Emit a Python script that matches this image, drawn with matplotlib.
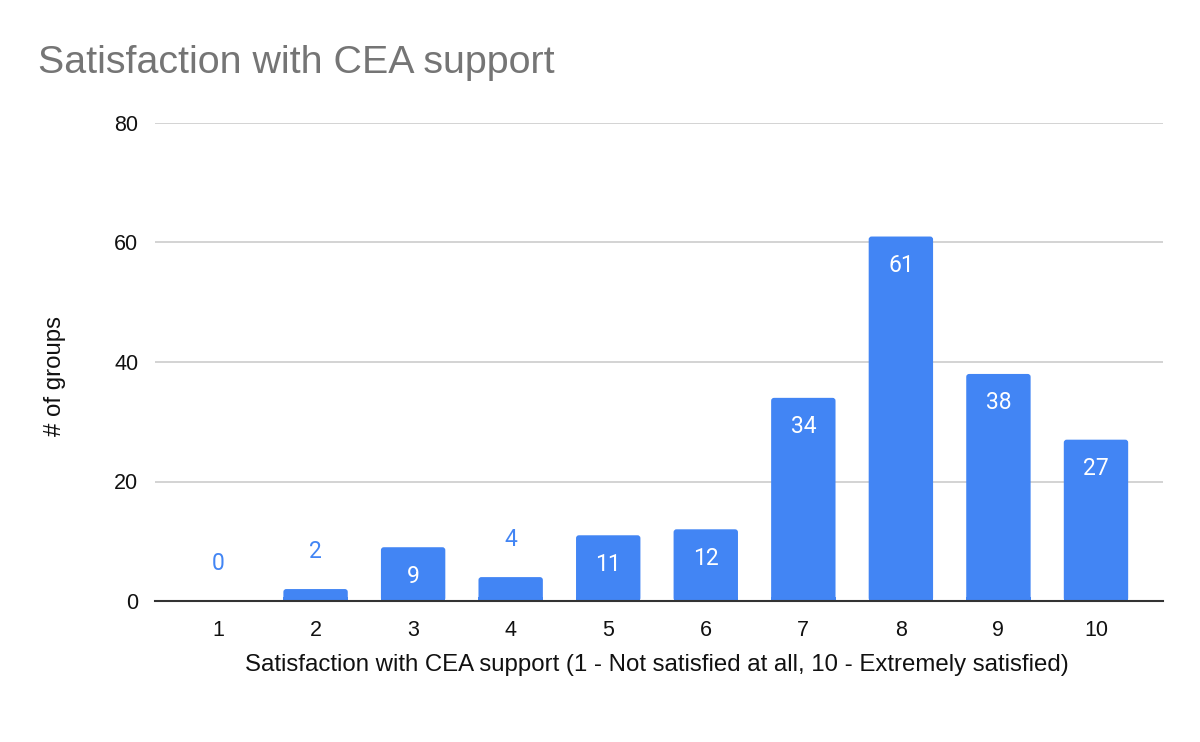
import matplotlib.pyplot as plt
from matplotlib.patches import FancyBboxPatch

scores = ['1', '2', '3', '4', '5', '6', '7', '8', '9', '10']
groups = [0, 2, 9, 4, 11, 12, 34, 61, 38, 27]
y_ticks = [0, 20, 40, 60, 80]

bar_color = '#4285f4'
arial = ['Liberation Sans', 'DejaVu Sans']
roboto = ['Roboto', 'DejaVu Sans']
plt.rcParams['font.family'] = arial

fig = plt.figure(figsize=(12, 7.42), dpi=100)
ax = fig.add_axes([155 / 1200, 1 - 601 / 742, (1163 - 155) / 1200, (601 - 123) / 742])

x = list(range(len(scores)))
bars = ax.bar(x, groups, width=0.66, color=bar_color, zorder=3)

# round the top corners a little, like the original
for b in bars:
    h = b.get_height()
    if h <= 0:
        continue
    b.set_visible(False)
    ax.add_patch(FancyBboxPatch((b.get_x(), 0), b.get_width(), h,
                                boxstyle='round,pad=0,rounding_size=0.03',
                                mutation_aspect=16,
                                color=bar_color, zorder=3, linewidth=0))
    # square off the bottom corners
    ax.add_patch(plt.Rectangle((b.get_x(), 0), b.get_width(), min(h, 0.6),
                               color=bar_color, zorder=3, linewidth=0))

for xi, v in zip(x, groups):
    if v >= 8:
        ax.annotate(str(v), (xi, v), xytext=(0, -29), textcoords='offset pixels',
                    ha='center', va='center', color='white', fontsize=16.5,
                    family=roboto, zorder=4)
    else:
        ax.annotate(str(v), (xi, v), xytext=(0, 38), textcoords='offset pixels',
                    ha='center', va='center', color=bar_color, fontsize=16.5,
                    family=roboto, zorder=4)

ax.set_xlim(-0.646, 9.687)
ax.set_ylim(0, 80)
ax.set_yticks(y_ticks)
ax.set_xticks(x)
ax.set_xticklabels(scores)
ax.tick_params(axis='both', length=0, labelsize=15.5, colors='#111111')
ax.tick_params(axis='x', pad=14)
ax.tick_params(axis='y', pad=12)
ax.grid(axis='y', color='#cccccc', linewidth=1.2, zorder=0)
for s in ['top', 'right', 'left']:
    ax.spines[s].set_visible(False)
ax.spines['bottom'].set_color('#333333')
ax.spines['bottom'].set_linewidth(1.5)
ax.spines['bottom'].set_zorder(5)

fig.text(657 / 1200, 1 - 665 / 742,
         'Satisfaction with CEA support (1 - Not satisfied at all, 10 - Extremely satisfied)',
         fontsize=17.3, color='#111111', ha='center', va='center')
fig.text(55 / 1200, 1 - 376 / 742, '# of groups', fontsize=17.3, color='#111111',
         rotation=90, ha='center', va='center')

fig.text(38 / 1200, 1 - 63 / 742, 'Satisfaction with CEA support', fontsize=28.4,
         color='#757575', va='center', ha='left')

fig.savefig('out.png', dpi=100)
